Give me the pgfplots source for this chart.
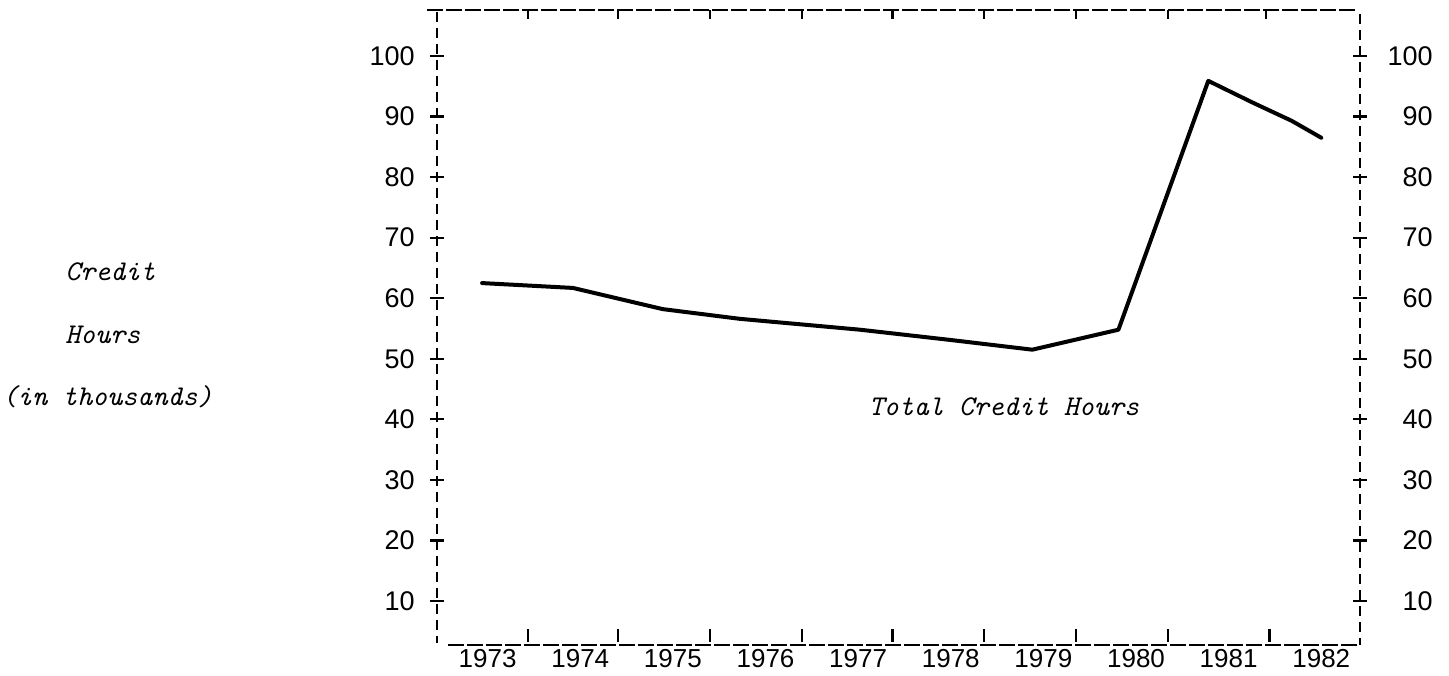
\documentclass[border=0pt]{standalone}
\usepackage{pgfplots}
\pgfplotsset{compat=1.18}
\usepackage{fontspec}
\setmainfont{Liberation Sans}
\newcommand\tw{\fontsize{14.3}{16}\selectfont\ttfamily\itshape}
\newcommand\ylab{\fontsize{13.5}{15}\selectfont}
\newcommand\xlab{\fontsize{13}{15}\selectfont}
\begin{document}
\begin{tikzpicture}
\path[use as bounding box] (-218.5pt,-15pt) rectangle (506pt,322.5pt);
% x is years since 1973 (0 = 1973, ..., 9 = 1982)
\begin{axis}[
  scale only axis, width=461.5pt, height=317.5pt,
  xmin=-0.547, xmax=9.418, ymin=2.73, ymax=107.6,
  axis line style={draw=none}, clip=false,
  ytick={10,20,...,100}, ytick pos=left, tick align=center,
  major tick length=7pt,
  ytick style={line width=1.1pt, black},
  /pgf/number format/assume math mode=true,
  yticklabel style={font=\ylab, anchor=east, inner sep=0pt, xshift=-7.5pt},
  xtick={0,...,9}, xtick pos=lower,
  xticklabels={1973,1974,1975,1976,1977,1978,1979,1980,1981,1982},
  xtick style={draw=none},
  xticklabel style={font=\xlab, anchor=north, inner sep=0pt, yshift=1.5pt},
]
\addplot[black, line width=2pt, line join=round, line cap=round] coordinates {
(-0.06,62.5) (0.92,61.7) (1.89,58.2) (2.72,56.6) (4.02,54.8)
(5.0,53.1) (5.88,51.5) (6.81,54.8) (7.78,95.9) (8.26,92.3)
(8.68,89.3) (9.0,86.5)};
% frame
\draw[black, line width=0.9pt, dash pattern=on 8pt off 1.5pt] (rel axis cs:-0.0108,1) -- (rel axis cs:0.9967,1);
\draw[black, line width=0.9pt, dash pattern=on 8pt off 1.5pt] (rel axis cs:0.0119,0) -- (rel axis cs:0.9967,0);
\draw[black, line width=0.8pt, dash pattern=on 5pt off 3pt] (rel axis cs:0,0.9969) -- (rel axis cs:0,0.0032);
\draw[black, line width=0.8pt, dash pattern=on 5pt off 3pt] (rel axis cs:1,0.9937) -- (rel axis cs:1,0);
% top and bottom tick marks
\pgfplotsinvokeforeach{0.435,1.407,2.400,3.393,4.375,5.358,6.351,7.344,8.402}{
  \draw[black, line width=1.4pt] (axis cs:#1,107.6) -- ++(0pt,-4.5pt);
}
\pgfplotsinvokeforeach{0.435,1.407,2.400,3.393,4.375,5.358,6.351,7.344,8.445}{
  \draw[black, line width=1.4pt] (axis cs:#1,2.73) ++(0pt,1.5pt) -- ++(0pt,6.5pt);
}
% texts
\node[font=\tw, anchor=center, inner sep=0pt] at (axis cs:5.574,42.0) {Total Credit Hours};
\node[font=\tw, anchor=west, inner sep=0pt, xshift=-186pt] at (axis cs:-0.547,64.33) {Credit};
\node[font=\tw, anchor=west, inner sep=0pt, xshift=-186pt] at (axis cs:-0.547,53.93) {Hours};
\node[font=\tw, anchor=west, inner sep=0pt, xshift=-217.5pt] at (axis cs:-0.547,43.7) {(in thousands)};
\end{axis}
\begin{axis}[
  scale only axis, width=461.5pt, height=317.5pt,
  xmin=-0.547, xmax=9.418, ymin=2.73, ymax=107.6,
  axis line style={draw=none}, hide x axis,
  ytick={10,20,...,100}, ytick pos=right, yticklabel pos=right, tick align=center,
  major tick length=7pt,
  ytick style={line width=1.1pt, black},
  /pgf/number format/assume math mode=true,
  yticklabel style={font=\ylab, anchor=east, inner sep=0pt, xshift=33pt},
]
\addplot[draw=none] coordinates {(2,50)};
\end{axis}
\end{tikzpicture}
\end{document}
